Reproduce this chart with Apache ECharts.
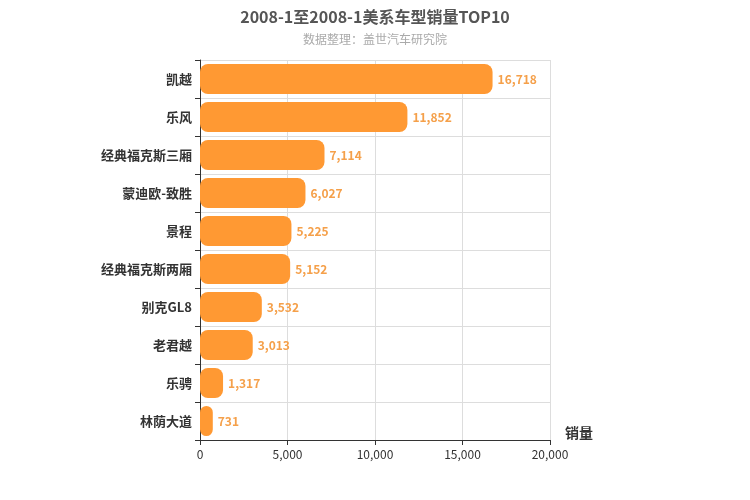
<!DOCTYPE html>
<html>
<head>
<meta charset="utf-8">
<script src="https://cdn.jsdelivr.net/npm/echarts@6/dist/echarts.min.js"></script>
<style>html,body{margin:0;padding:0;background:#fff}#main{width:750px;height:500px}</style>
</head>
<body>
<div id="main"></div>
<script>
var categories = ['凯越', '乐风', '经典福克斯三厢', '蒙迪欧-致胜', '景程', '经典福克斯两厢', '别克GL8', '老君越', '乐骋', '林荫大道'];
var sales = [16718, 11852, 7114, 6027, 5225, 5152, 3532, 3013, 1317, 731];

var chart = echarts.init(document.getElementById('main'));

var option = {
    backgroundColor: '#fff',
    textStyle: { fontFamily: 'Noto Sans CJK SC' },
    title: {
        text: '2008-1至2008-1美系车型销量TOP10',
        subtext: '数据整理：盖世汽车研究院',
        left: 'center',
        top: 4,
        itemGap: 8,
        textStyle: { fontSize: 16, fontWeight: 'bold', color: '#555' },
        subtextStyle: { fontSize: 12, color: '#aaa' }
    },
    grid: { left: 200, right: 200, top: 60, bottom: 60 },
    xAxis: {
        type: 'value',
        min: 0,
        max: 20000,
        interval: 5000,
        name: '销量',
        nameLocation: 'end',
        nameGap: 15,
        nameTextStyle: { fontSize: 14, fontWeight: 'bold', color: '#333', verticalAlign: 'bottom', padding: [0, 0, 0, 0] },
        axisLine: { show: true, lineStyle: { color: '#333' } },
        axisTick: { show: true },
        axisLabel: { color: '#333', fontSize: 12 },
        splitLine: { lineStyle: { color: '#ddd' } }
    },
    yAxis: {
        type: 'category',
        inverse: true,
        data: categories,
        axisLine: { lineStyle: { color: '#333' } },
        axisTick: { show: true },
        axisLabel: { color: '#333', fontSize: 13, fontWeight: 'bold', margin: 8 },
        splitLine: { show: true, lineStyle: { color: '#ddd' } }
    },
    series: [{
        type: 'bar',
        data: sales,
        barWidth: 30,
        itemStyle: { color: '#FF9933', borderRadius: 8 },
        label: {
            show: true,
            position: 'right',
            color: '#F5A04A',
            fontWeight: 'bold',
            fontSize: 12,
            formatter: function (p) { return p.value.toLocaleString('en-US'); }
        }
    }]
};
chart.setOption(option);
</script>
</body>
</html>
